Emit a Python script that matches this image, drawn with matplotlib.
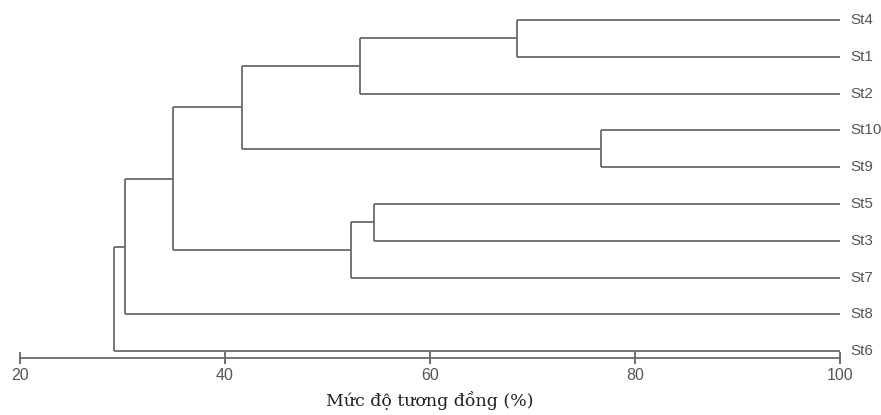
import matplotlib
matplotlib.use("Agg")
import matplotlib.pyplot as plt

# Leaves in dendrogram order (top to bottom)
leaves = ["St4", "St1", "St2", "St10", "St9", "St5", "St3", "St7", "St8", "St6"]
# Merges (scipy-like: indices 0..9 are leaves, 10+ are merged clusters)
merge_a = [0, 3, 5, 10, 12, 13, 15, 16, 17]
merge_b = [1, 4, 6, 2, 7, 11, 14, 8, 9]
merge_sim = [68.5, 76.7, 54.5, 53.2, 52.3, 41.7, 34.9, 30.2, 29.2]
xticks = [20, 40, 60, 80, 100]
xlabel = "Mức độ tương đồng (%)"

W, H = 881, 415
fig = plt.figure(figsize=(W / 100, H / 100), dpi=100)
step = 36.8
top_px = 20 - 0.5 * step
bottom_px = 358
ax = fig.add_axes([20 / W, 1 - bottom_px / H, (840 - 20) / W, (bottom_px - top_px) / H])
ymax = (bottom_px - 20) / step
ax.set_xlim(20, 100)
ax.set_ylim(ymax, -0.5)

lc = "#6a6a6a"
lw = 1.3
pos_x = {i: 100.0 for i in range(len(leaves))}
pos_y = {i: float(i) for i in range(len(leaves))}
for k, (a, b, s) in enumerate(zip(merge_a, merge_b, merge_sim)):
    node = len(leaves) + k
    ya, yb = pos_y[a], pos_y[b]
    ax.plot([s, s], [ya, yb], color=lc, lw=lw, solid_capstyle="butt")
    ax.plot([s, pos_x[a]], [ya, ya], color=lc, lw=lw, solid_capstyle="butt")
    ax.plot([s, pos_x[b]], [yb, yb], color=lc, lw=lw, solid_capstyle="butt")
    pos_x[node] = s
    pos_y[node] = (ya + yb) / 2

for i, name in enumerate(leaves):
    ax.text(101.0, i, name, va="center", ha="left", fontsize=11,
            family="Liberation Sans", color="#555555", clip_on=False)

for sp in ["top", "left", "right"]:
    ax.spines[sp].set_visible(False)
ax.spines["bottom"].set_color(lc)
ax.spines["bottom"].set_linewidth(lw)
ax.set_yticks([])
ax.set_xticks(xticks)
ax.set_xticklabels([str(t) for t in xticks], family="Liberation Sans", fontsize=11.5, color="#555555")
ax.tick_params(axis="x", direction="inout", length=8, width=1.2, color="#555555", pad=3)
ax.set_xlabel(xlabel, family="DejaVu Serif", fontsize=12.5, color="#222222", labelpad=6)

fig.savefig("out.png", dpi=100)
